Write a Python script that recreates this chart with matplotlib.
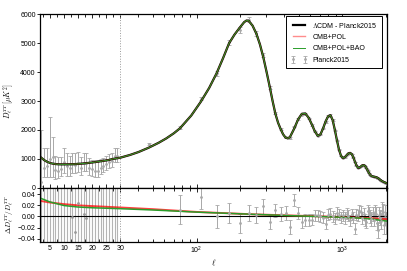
import numpy as np
import matplotlib.pyplot as plt

plt.rcParams['font.family'] = ['Liberation Sans', 'DejaVu Sans']
plt.rcParams['mathtext.fontset'] = 'cm'

# best-fit LCDM spectrum D_ell [muK^2]
ell_lo = np.arange(2, 31)
D_th_lo = [1040, 960, 905, 865, 840, 826, 818, 815, 815, 816, 818, 821, 825, 830,
           838, 847, 857, 868, 880, 893, 907, 921, 936, 951, 966, 995, 1012, 1028, 1045]
ell_hi = [35, 40, 47, 55, 62, 70, 77, 92, 107, 122, 137, 152, 167, 182, 197, 212, 220,
          227, 242, 257, 272, 287, 302, 317, 332, 347, 362, 377, 392, 407, 422, 437,
          467, 497, 527, 557, 587, 617, 647, 677, 707, 737, 767, 797, 827, 857, 887,
          917, 947, 977, 1007, 1037, 1067, 1097, 1127, 1157, 1187, 1217, 1247, 1277,
          1307, 1337, 1367, 1397, 1427, 1457, 1487, 1517, 1547, 1577, 1607, 1637,
          1667, 1697, 1727, 1757, 1787, 1817, 1847, 1877, 1907, 1937, 1967, 1997, 2030]
D_th_hi = [1140, 1240, 1390, 1560, 1710, 1890, 2060, 2500, 2976, 3450, 3950, 4480, 4990,
           5290, 5520, 5720, 5775, 5770, 5600, 5320, 4950, 4500, 4000, 3500, 3000, 2560,
           2250, 2030, 1850, 1740, 1710, 1760, 2050, 2370, 2560, 2570, 2420, 2190, 1950,
           1800, 1850, 2060, 2300, 2470, 2510, 2340, 2000, 1640, 1320, 1110, 1030, 1060,
           1130, 1190, 1210, 1170, 1060, 910, 780, 700, 700, 740, 780, 790, 760, 690, 600,
           520, 460, 420, 400, 390, 385, 375, 360, 340, 310, 280, 255, 235, 215, 200, 185,
           170, 155]

# model residuals relative to LCDM
ell_mod = [2, 5, 10, 15, 20, 30, 50, 100, 250, 420, 1000, 1500, 2030]
res_pol = [0.0275, 0.025, 0.022, 0.0198, 0.0185, 0.016, 0.013, 0.008, 0.0036, 0.0018,
           -0.0012, -0.003, -0.005]
res_bao = [0.032, 0.026, 0.0195, 0.0168, 0.0155, 0.0138, 0.0115, 0.0077, 0.0036, 0.0015,
           -0.0015, -0.004, -0.0085]

# Planck2015 low-ell points
ell_dat_lo = np.arange(2, 30)
D_dat_lo = [217, 680, 760, 1000, 1080, 620, 600, 640, 907, 760, 700, 820, 802, 850, 700,
            851, 854, 680, 640, 600, 600, 700, 760, 820, 880, 920, 1090, 1100]
err_lo_minus = [150, 290, 370, 610, 690, 300, 250, 230, 400, 330, 300, 310, 300, 300,
                260, 280, 280, 240, 230, 220, 210, 210, 210, 210, 200, 200, 200, 190]
err_lo_plus = [1780, 690, 610, 1460, 670, 500, 480, 440, 460, 440, 420, 400, 390, 380,
               370, 360, 350, 340, 330, 360, 380, 300, 290, 290, 280, 280, 280, 270]

# Planck2015 binned high-ell points (residual and relative error)
ell_bin = np.arange(47, 2000, 30)
res_bin = [0.09, 0.012, 0.035, 0.0, 0.006, -0.012, 0.006, 0.002, 0.018, -0.010, 0.011,
           0.004, 0.006, -0.019, 0.030, 0.006, -0.010, -0.006, -0.007, -0.006, 0.002,
           0.002, 0.0, -0.002, -0.013, 0.003, 0.005, 0.0, -0.004, 0.006, 0.003, -0.002,
           0.002, -0.003, 0.005, 0.001, -0.007, 0.004, -0.002, -0.022, 0.003, 0.002,
           0.010, 0.008, -0.003, 0.004, -0.006, -0.010, 0.009, 0.006, 0.0, -0.005, 0.004,
           -0.006, 0.008, 0.005, -0.012, -0.025, 0.003, -0.002, -0.008, 0.010, 0.008,
           -0.015, 0.002, -0.012]
err_bin = [0.035, 0.026, 0.021, 0.020, 0.018, 0.017, 0.014, 0.014, 0.013, 0.013, 0.012,
           0.012, 0.012, 0.012, 0.011, 0.011, 0.011, 0.011, 0.011, 0.010, 0.010, 0.010,
           0.010, 0.010, 0.010, 0.010, 0.010, 0.010, 0.010, 0.010, 0.010, 0.010, 0.010,
           0.010, 0.010, 0.010, 0.010, 0.010, 0.010, 0.010, 0.010, 0.010, 0.010, 0.010,
           0.010, 0.011, 0.011, 0.011, 0.011, 0.011, 0.011, 0.012, 0.012, 0.012, 0.012,
           0.012, 0.013, 0.013, 0.013, 0.014, 0.014, 0.015, 0.015, 0.016, 0.018, 0.020]

ell_th = np.concatenate([ell_lo, ell_hi])
D_th = np.concatenate([D_th_lo, D_th_hi]).astype(float)

idx = np.searchsorted(ell_th, ell_bin)
D_bin = D_th[idx] * (1 + np.array(res_bin))
Derr_bin = D_th[idx] * np.array(err_bin)
D_th_dlo = np.array(D_th_lo[:-1], float)
res_lo = np.array(D_dat_lo) / D_th_dlo - 1
rerr_lo = [np.array(err_lo_minus) / D_th_dlo, np.array(err_lo_plus) / D_th_dlo]

# linear for ell < 30, log above
c = 0.0193


def fwd(x):
    x = np.asarray(x, float)
    return np.where(x < 30, (x - 30) * c, np.log10(np.maximum(x, 30) / 30))


def inv(y):
    y = np.asarray(y, float)
    return np.where(y < 0, y / c + 30, 30 * 10 ** np.minimum(y, 10))


gray = '#a8a8a8'
green = '#2a9d2a'

fig = plt.figure(figsize=(4.07, 2.71), dpi=100)
ax1 = fig.add_axes([0.0983, 0.3063, 0.8526, 0.642])
ax2 = fig.add_axes([0.0983, 0.107, 0.8526, 0.1993])

for ax in (ax1, ax2):
    ax.set_xscale('function', functions=(fwd, inv))
    ax.set_xlim(1.5, 2020)
    ax.axvline(30, color='#999999', ls=':', lw=0.7)
    ax.set_xticks([5, 10, 15, 20, 25, 30, 100, 1000])
    ax.set_xticks(list(np.arange(2.5, 30, 5)) + list(range(40, 100, 10))
                  + list(range(200, 1000, 100)) + [2000], minor=True)
    ax.tick_params(axis='x', which='both', direction='in', top=True, labelsize=5,
                   pad=2)
    ax.tick_params(axis='x', which='major', length=3, width=0.6)
    ax.tick_params(axis='x', which='minor', length=2, width=0.6)
    ax.tick_params(axis='y', direction='out', length=2, width=0.6, labelsize=5, pad=1)
    for s in ax.spines.values():
        s.set_linewidth(0.9)

# top panel
ax1.plot(ell_th, D_th, color='k', lw=1.6, label=r'$\Lambda$CDM - Planck2015')
ax1.plot(ell_th, D_th, color='red', lw=1.0, alpha=0.45, label='CMB+POL')
ax1.plot(ell_th, D_th, color=green, lw=0.7, label='CMB+POL+BAO')
ax1.errorbar(ell_dat_lo, D_dat_lo, yerr=[err_lo_minus, err_lo_plus], fmt='.', ms=2,
             color=gray, ecolor=gray, elinewidth=0.7, capsize=1.5, capthick=0.6,
             label='Planck2015', zorder=1)
ax1.errorbar(ell_bin, D_bin, yerr=Derr_bin, fmt='.', ms=2, color=gray, ecolor=gray,
             elinewidth=0.7, capsize=1.5, capthick=0.6, zorder=1)
ax1.set_ylim(0, 6000)
ax1.set_yticks(range(0, 6001, 1000))
ax1.tick_params(axis='x', labelbottom=False)
ax1.set_ylabel(r'$D_\ell^{TT}\,[\mu K^2]$', fontsize=5.5)
ax1.yaxis.set_label_coords(-0.068, 0.5)

leg = ax1.legend(loc='upper right', fontsize=5, numpoints=2, fancybox=False,
                 framealpha=1, edgecolor='k', handlelength=2.2, labelspacing=0.62,
                 borderpad=0.7, bbox_to_anchor=(0.9865, 0.99), borderaxespad=0)
leg.get_frame().set_linewidth(0.7)

# bottom panel
ax2.errorbar(ell_dat_lo, res_lo, yerr=rerr_lo, fmt='.', ms=2, color='#999999',
             ecolor='#b4b4b4', elinewidth=0.8, capsize=1.5, capthick=0.6)
ax2.errorbar(ell_bin, res_bin, yerr=err_bin, fmt='.', ms=2, color=gray, ecolor=gray,
             elinewidth=0.7, capsize=1.5, capthick=0.6)
ax2.axhline(0, color='k', lw=0.8)
ax2.plot(ell_mod, res_pol, color='red', lw=1.4, alpha=0.75)
ax2.plot(ell_mod, res_bao, color=green, lw=1.1)
ax2.set_ylim(-0.046, 0.051)
ax2.set_yticks([-0.04, -0.02, 0.0, 0.02, 0.04])
ax2.set_xticklabels(['5', '10', '15', '20', '25', '30', r'$\mathregular{10^2}$',
                     r'$\mathregular{10^3}$'])
ax2.set_ylabel(r'$\Delta D_\ell^{TT}/D_\ell^{TT}$', fontsize=5.3)
ax2.yaxis.set_label_coords(-0.072, 0.5)
ax2.set_xlabel(r'$\ell$', fontsize=6, labelpad=1)

fig.savefig('out.png', dpi=100)
